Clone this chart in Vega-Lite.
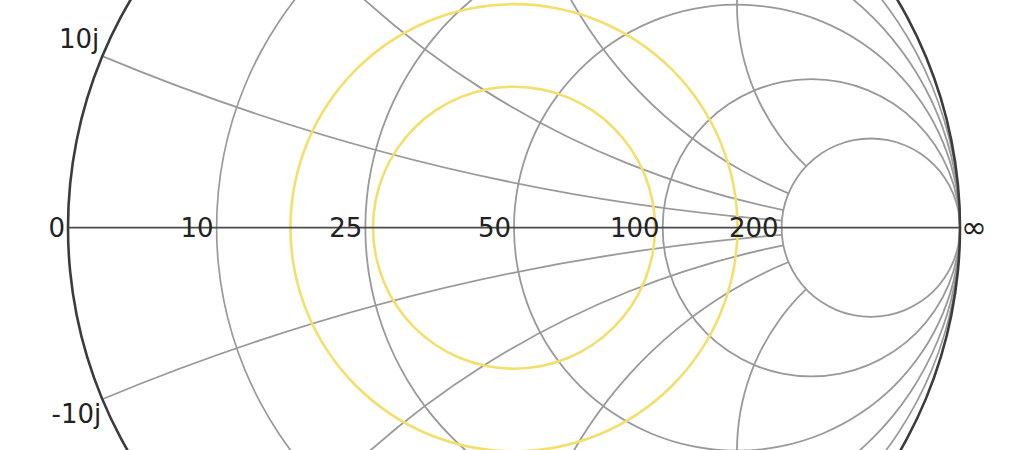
{
  "$schema": "https://vega.github.io/schema/vega-lite/v6.json",
  "width": 1024,
  "height": 450,
  "padding": 0,
  "autosize": {"type": "none"},
  "background": "#ffffff",
  "config": {"view": {"stroke": null}},
  "datasets": {
    "grid": [
      {"line": "r 10", "gx": 0.16667, "gy": 0, "r": 0.83333, "t0": 0, "t1": 360},
      {"line": "r 25", "gx": 0.33333, "gy": 0, "r": 0.66667, "t0": 0, "t1": 360},
      {"line": "r 50", "gx": 0.5, "gy": 0, "r": 0.5, "t0": 0, "t1": 360},
      {"line": "r 100", "gx": 0.66667, "gy": 0, "r": 0.33333, "t0": 0, "t1": 360},
      {"line": "r 200", "gx": 0.8, "gy": 0, "r": 0.2, "t0": 0, "t1": 360},
      {"line": "x 10j", "gx": 1, "gy": 5, "r": 5, "t0": 184.581, "t1": 202.62},
      {"line": "x 25j", "gx": 1, "gy": 2, "r": 2, "t0": 191.42, "t1": 233.13},
      {"line": "x 50j", "gx": 1, "gy": 1, "r": 1, "t0": 202.62, "t1": 270},
      {"line": "x 100j", "gx": 1, "gy": 0.5, "r": 0.5, "t0": 223.603, "t1": 306.87},
      {"line": "x -10j", "gx": 1, "gy": -5, "r": 5, "t0": 337.38, "t1": 355.419},
      {"line": "x -25j", "gx": 1, "gy": -2, "r": 2, "t0": 306.87, "t1": 348.58},
      {"line": "x -50j", "gx": 1, "gy": -1, "r": 1, "t0": 270, "t1": 337.38},
      {"line": "x -100j", "gx": 1, "gy": -0.5, "r": 0.5, "t0": 233.13, "t1": 316.397}
    ],
    "edge": [
      {"gx": 0, "gy": 0, "r": 1, "t0": 0, "t1": 360}
    ],
    "axis": [
      {"gx": -1, "gx2": 1, "gy": 0}
    ],
    "returnLoss": [
      {"rl": "10 dB", "gx": 0, "gy": 0, "r": 0.3162, "t0": 0, "t1": 360},
      {"rl": "6 dB", "gx": 0, "gy": 0, "r": 0.5012, "t0": 0, "t1": 360}
    ],
    "labels": [
      {"text": "0", "gx": -1, "gy": 0, "group": "real"},
      {"text": "10", "gx": -0.66667, "gy": 0, "group": "real"},
      {"text": "25", "gx": -0.33333, "gy": 0, "group": "real"},
      {"text": "50", "gx": 0, "gy": 0, "group": "real"},
      {"text": "100", "gx": 0.33333, "gy": 0, "group": "real"},
      {"text": "200", "gx": 0.6, "gy": 0, "group": "real"},
      {"text": "∞", "gx": 1, "gy": 0, "group": "inf"},
      {"text": "10j", "gx": -0.923077, "gy": 0.384615, "group": "top"},
      {"text": "-10j", "gx": -0.923077, "gy": -0.384615, "group": "bottom"}
    ]
  },
  "layer": [
    {
      "data": {"name": "grid"},
      "mark": {"type": "arc", "color": "#999999", "radiusOffset": 0.9, "radius2Offset": -0.9},
      "encoding": {
        "x": {"field": "gx", "type": "quantitative", "axis": null,
          "scale": {"domain": [-1.15247, 1.1435], "range": [0, 1024], "nice": false, "zero": false}},
        "y": {"field": "gy", "type": "quantitative", "axis": null,
          "scale": {"domain": [-0.49843, 0.51054], "range": [450, 0], "nice": false, "zero": false}},
        "radius": {"field": "r", "type": "quantitative",
          "scale": {"type": "linear", "domain": [0, 1], "range": [0, 446], "zero": true}},
        "radius2": {"field": "r"},
        "theta": {"field": "t0", "type": "quantitative",
          "scale": {"domain": [0, 360], "range": [0, 6.283185307179586]}},
        "theta2": {"field": "t1"}
      }
    },
    {
      "data": {"name": "returnLoss"},
      "mark": {"type": "arc", "color": "#f2df6c", "radiusOffset": 1.3, "radius2Offset": -1.3},
      "encoding": {
        "x": {"field": "gx", "type": "quantitative", "axis": null,
          "scale": {"domain": [-1.15247, 1.1435], "range": [0, 1024], "nice": false, "zero": false}},
        "y": {"field": "gy", "type": "quantitative", "axis": null,
          "scale": {"domain": [-0.49843, 0.51054], "range": [450, 0], "nice": false, "zero": false}},
        "radius": {"field": "r", "type": "quantitative",
          "scale": {"type": "linear", "domain": [0, 1], "range": [0, 446], "zero": true}},
        "radius2": {"field": "r"},
        "theta": {"field": "t0", "type": "quantitative",
          "scale": {"domain": [0, 360], "range": [0, 6.283185307179586]}},
        "theta2": {"field": "t1"}
      }
    },
    {
      "data": {"name": "axis"},
      "mark": {"type": "rule", "color": "#4a4a4a", "strokeWidth": 1.8},
      "encoding": {
        "x": {"field": "gx", "type": "quantitative", "axis": null,
          "scale": {"domain": [-1.15247, 1.1435], "range": [0, 1024], "nice": false, "zero": false}},
        "x2": {"field": "gx2"},
        "y": {"field": "gy", "type": "quantitative", "axis": null,
          "scale": {"domain": [-0.49843, 0.51054], "range": [450, 0], "nice": false, "zero": false}}
      }
    },
    {
      "data": {"name": "edge"},
      "mark": {"type": "arc", "color": "#3c3c3c", "radiusOffset": 1.3, "radius2Offset": -1.3},
      "encoding": {
        "x": {"field": "gx", "type": "quantitative", "axis": null,
          "scale": {"domain": [-1.15247, 1.1435], "range": [0, 1024], "nice": false, "zero": false}},
        "y": {"field": "gy", "type": "quantitative", "axis": null,
          "scale": {"domain": [-0.49843, 0.51054], "range": [450, 0], "nice": false, "zero": false}},
        "radius": {"field": "r", "type": "quantitative",
          "scale": {"type": "linear", "domain": [0, 1], "range": [0, 446], "zero": true}},
        "radius2": {"field": "r"},
        "theta": {"field": "t0", "type": "quantitative",
          "scale": {"domain": [0, 360], "range": [0, 6.283185307179586]}},
        "theta2": {"field": "t1"}
      }
    },
    {
      "data": {"name": "labels"},
      "transform": [{"filter": {"field": "group", "equal": "real"}}],
      "mark": {"type": "text", "font": "DejaVu Sans", "fontSize": 26, "color": "#222222",
        "align": "right", "baseline": "middle", "dx": -3, "dy": 1.5},
      "encoding": {
        "x": {"field": "gx", "type": "quantitative", "axis": null,
          "scale": {"domain": [-1.15247, 1.1435], "range": [0, 1024], "nice": false, "zero": false}},
        "y": {"field": "gy", "type": "quantitative", "axis": null,
          "scale": {"domain": [-0.49843, 0.51054], "range": [450, 0], "nice": false, "zero": false}},
        "text": {"field": "text"}
      }
    },
    {
      "data": {"name": "labels"},
      "transform": [{"filter": {"field": "group", "equal": "inf"}}],
      "mark": {"type": "text", "font": "DejaVu Sans", "fontSize": 31, "color": "#222222",
        "align": "left", "baseline": "middle", "dx": 1, "dy": 1.5},
      "encoding": {
        "x": {"field": "gx", "type": "quantitative", "axis": null,
          "scale": {"domain": [-1.15247, 1.1435], "range": [0, 1024], "nice": false, "zero": false}},
        "y": {"field": "gy", "type": "quantitative", "axis": null,
          "scale": {"domain": [-0.49843, 0.51054], "range": [450, 0], "nice": false, "zero": false}},
        "text": {"field": "text"}
      }
    },
    {
      "data": {"name": "labels"},
      "transform": [{"filter": {"field": "group", "equal": "top"}}],
      "mark": {"type": "text", "font": "DejaVu Sans", "fontSize": 26, "color": "#222222",
        "align": "right", "baseline": "alphabetic", "dx": -3, "dy": -8},
      "encoding": {
        "x": {"field": "gx", "type": "quantitative", "axis": null,
          "scale": {"domain": [-1.15247, 1.1435], "range": [0, 1024], "nice": false, "zero": false}},
        "y": {"field": "gy", "type": "quantitative", "axis": null,
          "scale": {"domain": [-0.49843, 0.51054], "range": [450, 0], "nice": false, "zero": false}},
        "text": {"field": "text"}
      }
    },
    {
      "data": {"name": "labels"},
      "transform": [{"filter": {"field": "group", "equal": "bottom"}}],
      "mark": {"type": "text", "font": "DejaVu Sans", "fontSize": 26, "color": "#222222",
        "align": "right", "baseline": "alphabetic", "dx": -1, "dy": 24},
      "encoding": {
        "x": {"field": "gx", "type": "quantitative", "axis": null,
          "scale": {"domain": [-1.15247, 1.1435], "range": [0, 1024], "nice": false, "zero": false}},
        "y": {"field": "gy", "type": "quantitative", "axis": null,
          "scale": {"domain": [-0.49843, 0.51054], "range": [450, 0], "nice": false, "zero": false}},
        "text": {"field": "text"}
      }
    }
  ]
}
